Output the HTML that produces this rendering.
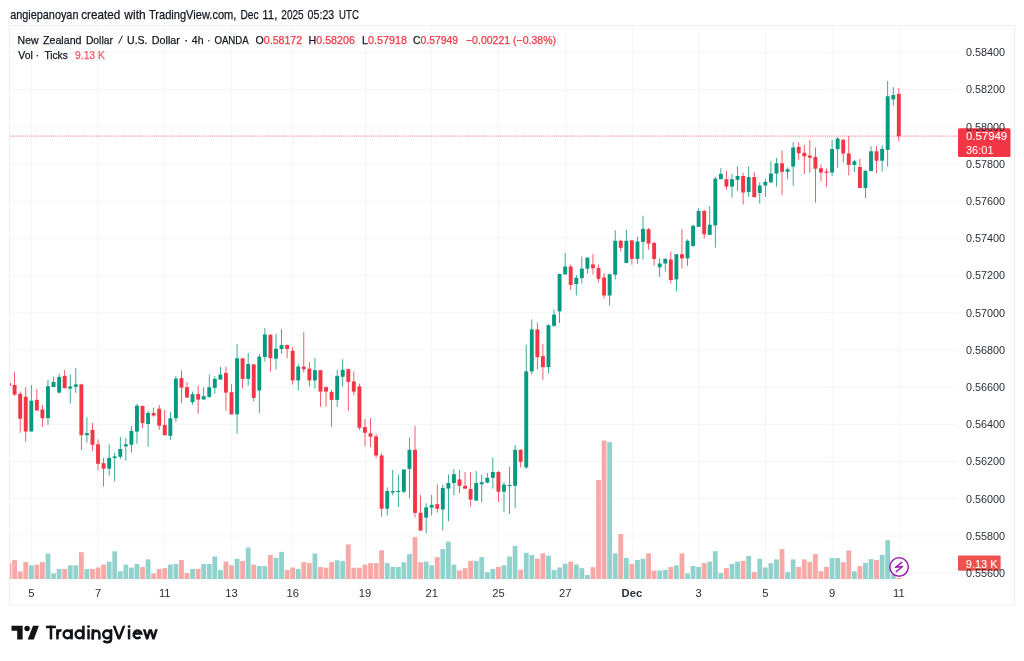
<!DOCTYPE html>
<html><head><meta charset="utf-8"><style>
html,body{margin:0;padding:0;background:#fff;width:1024px;height:661px;overflow:hidden;position:relative}
</style></head><body>
<svg width="1024" height="661" viewBox="0 0 1024 661" style="position:absolute;left:0;top:0;will-change:transform">
<defs><clipPath id="pane"><rect x="10" y="25.5" width="948" height="554"/></clipPath></defs>
<rect x="9.5" y="25.5" width="1005" height="579.3" fill="none" stroke="#EEEFF1" stroke-width="1"/>
<g><rect x="31.00" y="26" width="1" height="554" fill="#F4F5F6"/><rect x="97.10" y="26" width="1" height="554" fill="#F4F5F6"/><rect x="163.90" y="26" width="1" height="554" fill="#F4F5F6"/><rect x="231.10" y="26" width="1" height="554" fill="#F4F5F6"/><rect x="291.90" y="26" width="1" height="554" fill="#F4F5F6"/><rect x="365.00" y="26" width="1" height="554" fill="#F4F5F6"/><rect x="431.10" y="26" width="1" height="554" fill="#F4F5F6"/><rect x="497.80" y="26" width="1" height="554" fill="#F4F5F6"/><rect x="565.20" y="26" width="1" height="554" fill="#F4F5F6"/><rect x="631.90" y="26" width="1" height="554" fill="#F4F5F6"/><rect x="698.30" y="26" width="1" height="554" fill="#F4F5F6"/><rect x="765.00" y="26" width="1" height="554" fill="#F4F5F6"/><rect x="831.80" y="26" width="1" height="554" fill="#F4F5F6"/><rect x="898.60" y="26" width="1" height="554" fill="#F4F5F6"/><rect x="10" y="51.90" width="948" height="1" fill="#F4F5F6"/><rect x="10" y="89.09" width="948" height="1" fill="#F4F5F6"/><rect x="10" y="126.28" width="948" height="1" fill="#F4F5F6"/><rect x="10" y="163.47" width="948" height="1" fill="#F4F5F6"/><rect x="10" y="200.66" width="948" height="1" fill="#F4F5F6"/><rect x="10" y="237.85" width="948" height="1" fill="#F4F5F6"/><rect x="10" y="275.04" width="948" height="1" fill="#F4F5F6"/><rect x="10" y="312.23" width="948" height="1" fill="#F4F5F6"/><rect x="10" y="349.42" width="948" height="1" fill="#F4F5F6"/><rect x="10" y="386.61" width="948" height="1" fill="#F4F5F6"/><rect x="10" y="423.80" width="948" height="1" fill="#F4F5F6"/><rect x="10" y="460.99" width="948" height="1" fill="#F4F5F6"/><rect x="10" y="498.18" width="948" height="1" fill="#F4F5F6"/><rect x="10" y="535.37" width="948" height="1" fill="#F4F5F6"/><rect x="10" y="572.56" width="948" height="1" fill="#F4F5F6"/></g>
<g clip-path="url(#pane)"><rect x="6.66" y="563.10" width="4.8" height="16.10" fill="#F7A9A7"/><rect x="12.22" y="560.00" width="4.8" height="19.20" fill="#F7A9A7"/><rect x="17.78" y="571.30" width="4.8" height="7.90" fill="#F7A9A7"/><rect x="23.34" y="562.10" width="4.8" height="17.10" fill="#F7A9A7"/><rect x="28.90" y="565.30" width="4.8" height="13.90" fill="#92D2CC"/><rect x="34.46" y="564.60" width="4.8" height="14.60" fill="#F7A9A7"/><rect x="40.02" y="562.10" width="4.8" height="17.10" fill="#F7A9A7"/><rect x="45.58" y="553.50" width="4.8" height="25.70" fill="#92D2CC"/><rect x="51.14" y="573.50" width="4.8" height="5.70" fill="#92D2CC"/><rect x="56.71" y="569.00" width="4.8" height="10.20" fill="#92D2CC"/><rect x="62.27" y="569.00" width="4.8" height="10.20" fill="#F7A9A7"/><rect x="67.83" y="565.30" width="4.8" height="13.90" fill="#92D2CC"/><rect x="73.39" y="565.30" width="4.8" height="13.90" fill="#92D2CC"/><rect x="78.95" y="552.10" width="4.8" height="27.10" fill="#F7A9A7"/><rect x="84.51" y="569.00" width="4.8" height="10.20" fill="#92D2CC"/><rect x="90.07" y="569.00" width="4.8" height="10.20" fill="#F7A9A7"/><rect x="95.63" y="567.50" width="4.8" height="11.70" fill="#F7A9A7"/><rect x="101.19" y="564.60" width="4.8" height="14.60" fill="#F7A9A7"/><rect x="106.75" y="561.60" width="4.8" height="17.60" fill="#92D2CC"/><rect x="112.31" y="551.30" width="4.8" height="27.90" fill="#92D2CC"/><rect x="117.88" y="571.30" width="4.8" height="7.90" fill="#92D2CC"/><rect x="123.44" y="564.60" width="4.8" height="14.60" fill="#92D2CC"/><rect x="129.00" y="567.60" width="4.8" height="11.60" fill="#92D2CC"/><rect x="134.56" y="564.00" width="4.8" height="15.20" fill="#92D2CC"/><rect x="140.12" y="567.10" width="4.8" height="12.10" fill="#F7A9A7"/><rect x="145.68" y="559.40" width="4.8" height="19.80" fill="#92D2CC"/><rect x="151.24" y="573.50" width="4.8" height="5.70" fill="#F7A9A7"/><rect x="156.80" y="569.00" width="4.8" height="10.20" fill="#F7A9A7"/><rect x="162.36" y="568.10" width="4.8" height="11.10" fill="#F7A9A7"/><rect x="167.93" y="564.60" width="4.8" height="14.60" fill="#92D2CC"/><rect x="173.49" y="564.00" width="4.8" height="15.20" fill="#92D2CC"/><rect x="179.05" y="560.00" width="4.8" height="19.20" fill="#F7A9A7"/><rect x="184.61" y="572.90" width="4.8" height="6.30" fill="#F7A9A7"/><rect x="190.17" y="569.00" width="4.8" height="10.20" fill="#92D2CC"/><rect x="195.73" y="569.00" width="4.8" height="10.20" fill="#F7A9A7"/><rect x="201.29" y="564.00" width="4.8" height="15.20" fill="#92D2CC"/><rect x="206.85" y="564.00" width="4.8" height="15.20" fill="#92D2CC"/><rect x="212.41" y="556.50" width="4.8" height="22.70" fill="#92D2CC"/><rect x="217.97" y="570.00" width="4.8" height="9.20" fill="#92D2CC"/><rect x="223.53" y="561.60" width="4.8" height="17.60" fill="#F7A9A7"/><rect x="229.10" y="565.25" width="4.8" height="13.95" fill="#F7A9A7"/><rect x="234.66" y="558.75" width="4.8" height="20.45" fill="#92D2CC"/><rect x="240.22" y="561.00" width="4.8" height="18.20" fill="#F7A9A7"/><rect x="245.78" y="547.50" width="4.8" height="31.70" fill="#92D2CC"/><rect x="251.34" y="564.60" width="4.8" height="14.60" fill="#F7A9A7"/><rect x="256.90" y="566.00" width="4.8" height="13.20" fill="#92D2CC"/><rect x="262.46" y="566.00" width="4.8" height="13.20" fill="#92D2CC"/><rect x="268.02" y="555.00" width="4.8" height="24.20" fill="#F7A9A7"/><rect x="273.58" y="557.90" width="4.8" height="21.30" fill="#92D2CC"/><rect x="279.15" y="551.90" width="4.8" height="27.30" fill="#92D2CC"/><rect x="284.71" y="570.00" width="4.8" height="9.20" fill="#F7A9A7"/><rect x="290.27" y="567.50" width="4.8" height="11.70" fill="#F7A9A7"/><rect x="295.83" y="569.00" width="4.8" height="10.20" fill="#92D2CC"/><rect x="301.39" y="562.10" width="4.8" height="17.10" fill="#F7A9A7"/><rect x="306.95" y="563.10" width="4.8" height="16.10" fill="#F7A9A7"/><rect x="312.51" y="553.50" width="4.8" height="25.70" fill="#92D2CC"/><rect x="318.07" y="567.10" width="4.8" height="12.10" fill="#F7A9A7"/><rect x="323.63" y="567.75" width="4.8" height="11.45" fill="#F7A9A7"/><rect x="329.19" y="562.10" width="4.8" height="17.10" fill="#F7A9A7"/><rect x="334.76" y="560.25" width="4.8" height="18.95" fill="#92D2CC"/><rect x="340.32" y="561.00" width="4.8" height="18.20" fill="#92D2CC"/><rect x="345.88" y="544.40" width="4.8" height="34.80" fill="#F7A9A7"/><rect x="351.44" y="567.75" width="4.8" height="11.45" fill="#F7A9A7"/><rect x="357.00" y="567.75" width="4.8" height="11.45" fill="#F7A9A7"/><rect x="362.56" y="564.60" width="4.8" height="14.60" fill="#F7A9A7"/><rect x="368.12" y="563.10" width="4.8" height="16.10" fill="#F7A9A7"/><rect x="373.68" y="563.10" width="4.8" height="16.10" fill="#F7A9A7"/><rect x="379.24" y="550.25" width="4.8" height="28.95" fill="#F7A9A7"/><rect x="384.80" y="563.10" width="4.8" height="16.10" fill="#92D2CC"/><rect x="390.37" y="566.90" width="4.8" height="12.30" fill="#92D2CC"/><rect x="395.93" y="566.90" width="4.8" height="12.30" fill="#92D2CC"/><rect x="401.49" y="562.25" width="4.8" height="16.95" fill="#92D2CC"/><rect x="407.05" y="554.10" width="4.8" height="25.10" fill="#92D2CC"/><rect x="412.61" y="537.10" width="4.8" height="42.10" fill="#F7A9A7"/><rect x="418.17" y="562.25" width="4.8" height="16.95" fill="#F7A9A7"/><rect x="423.73" y="561.60" width="4.8" height="17.60" fill="#92D2CC"/><rect x="429.29" y="565.25" width="4.8" height="13.95" fill="#92D2CC"/><rect x="434.85" y="557.10" width="4.8" height="22.10" fill="#F7A9A7"/><rect x="440.41" y="549.00" width="4.8" height="30.20" fill="#92D2CC"/><rect x="445.98" y="541.60" width="4.8" height="37.60" fill="#92D2CC"/><rect x="451.54" y="564.60" width="4.8" height="14.60" fill="#92D2CC"/><rect x="457.10" y="570.40" width="4.8" height="8.80" fill="#F7A9A7"/><rect x="462.66" y="568.10" width="4.8" height="11.10" fill="#F7A9A7"/><rect x="468.22" y="560.90" width="4.8" height="18.30" fill="#F7A9A7"/><rect x="473.78" y="560.90" width="4.8" height="18.30" fill="#92D2CC"/><rect x="479.34" y="557.10" width="4.8" height="22.10" fill="#92D2CC"/><rect x="484.90" y="572.10" width="4.8" height="7.10" fill="#92D2CC"/><rect x="490.46" y="569.00" width="4.8" height="10.20" fill="#92D2CC"/><rect x="496.02" y="566.90" width="4.8" height="12.30" fill="#F7A9A7"/><rect x="501.59" y="565.25" width="4.8" height="13.95" fill="#92D2CC"/><rect x="507.15" y="556.50" width="4.8" height="22.70" fill="#92D2CC"/><rect x="512.71" y="546.00" width="4.8" height="33.20" fill="#92D2CC"/><rect x="518.27" y="569.75" width="4.8" height="9.45" fill="#F7A9A7"/><rect x="523.83" y="552.75" width="4.8" height="26.45" fill="#92D2CC"/><rect x="529.39" y="555.00" width="4.8" height="24.20" fill="#92D2CC"/><rect x="534.95" y="558.75" width="4.8" height="20.45" fill="#F7A9A7"/><rect x="540.51" y="553.40" width="4.8" height="25.80" fill="#F7A9A7"/><rect x="546.07" y="555.60" width="4.8" height="23.60" fill="#92D2CC"/><rect x="551.63" y="570.00" width="4.8" height="9.20" fill="#92D2CC"/><rect x="557.19" y="567.50" width="4.8" height="11.70" fill="#92D2CC"/><rect x="562.76" y="563.75" width="4.8" height="15.45" fill="#92D2CC"/><rect x="568.32" y="561.60" width="4.8" height="17.60" fill="#F7A9A7"/><rect x="573.88" y="564.40" width="4.8" height="14.80" fill="#92D2CC"/><rect x="579.44" y="568.10" width="4.8" height="11.10" fill="#92D2CC"/><rect x="585.00" y="575.00" width="4.8" height="4.20" fill="#92D2CC"/><rect x="590.56" y="567.25" width="4.8" height="11.95" fill="#F7A9A7"/><rect x="596.12" y="480.00" width="4.8" height="99.20" fill="#F7A9A7"/><rect x="601.68" y="440.60" width="4.8" height="138.60" fill="#F7A9A7"/><rect x="607.24" y="442.20" width="4.8" height="137.00" fill="#92D2CC"/><rect x="612.80" y="553.40" width="4.8" height="25.80" fill="#92D2CC"/><rect x="618.37" y="534.00" width="4.8" height="45.20" fill="#F7A9A7"/><rect x="623.93" y="557.90" width="4.8" height="21.30" fill="#92D2CC"/><rect x="629.49" y="564.00" width="4.8" height="15.20" fill="#F7A9A7"/><rect x="635.05" y="560.00" width="4.8" height="19.20" fill="#92D2CC"/><rect x="640.61" y="558.75" width="4.8" height="20.45" fill="#92D2CC"/><rect x="646.17" y="553.40" width="4.8" height="25.80" fill="#F7A9A7"/><rect x="651.73" y="570.60" width="4.8" height="8.60" fill="#F7A9A7"/><rect x="657.29" y="570.60" width="4.8" height="8.60" fill="#92D2CC"/><rect x="662.85" y="569.75" width="4.8" height="9.45" fill="#92D2CC"/><rect x="668.41" y="566.90" width="4.8" height="12.30" fill="#F7A9A7"/><rect x="673.98" y="565.40" width="4.8" height="13.80" fill="#92D2CC"/><rect x="679.54" y="553.40" width="4.8" height="25.80" fill="#F7A9A7"/><rect x="685.10" y="573.40" width="4.8" height="5.80" fill="#92D2CC"/><rect x="690.66" y="566.00" width="4.8" height="13.20" fill="#92D2CC"/><rect x="696.22" y="566.90" width="4.8" height="12.30" fill="#92D2CC"/><rect x="701.78" y="563.10" width="4.8" height="16.10" fill="#F7A9A7"/><rect x="707.34" y="561.60" width="4.8" height="17.60" fill="#92D2CC"/><rect x="712.90" y="551.25" width="4.8" height="27.95" fill="#92D2CC"/><rect x="718.46" y="572.90" width="4.8" height="6.30" fill="#92D2CC"/><rect x="724.02" y="568.10" width="4.8" height="11.10" fill="#F7A9A7"/><rect x="729.59" y="564.00" width="4.8" height="15.20" fill="#92D2CC"/><rect x="735.15" y="561.60" width="4.8" height="17.60" fill="#92D2CC"/><rect x="740.71" y="560.90" width="4.8" height="18.30" fill="#F7A9A7"/><rect x="746.27" y="555.90" width="4.8" height="23.30" fill="#92D2CC"/><rect x="751.83" y="572.10" width="4.8" height="7.10" fill="#F7A9A7"/><rect x="757.39" y="558.75" width="4.8" height="20.45" fill="#92D2CC"/><rect x="762.95" y="567.50" width="4.8" height="11.70" fill="#92D2CC"/><rect x="768.51" y="563.10" width="4.8" height="16.10" fill="#92D2CC"/><rect x="774.07" y="559.40" width="4.8" height="19.80" fill="#92D2CC"/><rect x="779.63" y="549.10" width="4.8" height="30.10" fill="#F7A9A7"/><rect x="785.20" y="572.10" width="4.8" height="7.10" fill="#92D2CC"/><rect x="790.76" y="559.40" width="4.8" height="19.80" fill="#92D2CC"/><rect x="796.32" y="566.90" width="4.8" height="12.30" fill="#F7A9A7"/><rect x="801.88" y="559.40" width="4.8" height="19.80" fill="#F7A9A7"/><rect x="807.44" y="561.90" width="4.8" height="17.30" fill="#F7A9A7"/><rect x="813.00" y="554.10" width="4.8" height="25.10" fill="#F7A9A7"/><rect x="818.56" y="571.25" width="4.8" height="7.95" fill="#F7A9A7"/><rect x="824.12" y="566.90" width="4.8" height="12.30" fill="#F7A9A7"/><rect x="829.68" y="558.10" width="4.8" height="21.10" fill="#92D2CC"/><rect x="835.25" y="558.10" width="4.8" height="21.10" fill="#92D2CC"/><rect x="840.81" y="562.25" width="4.8" height="16.95" fill="#F7A9A7"/><rect x="846.37" y="550.40" width="4.8" height="28.80" fill="#F7A9A7"/><rect x="851.93" y="571.20" width="4.8" height="8.00" fill="#92D2CC"/><rect x="857.49" y="566.00" width="4.8" height="13.20" fill="#F7A9A7"/><rect x="863.05" y="563.00" width="4.8" height="16.20" fill="#92D2CC"/><rect x="868.61" y="559.10" width="4.8" height="20.10" fill="#92D2CC"/><rect x="874.17" y="560.00" width="4.8" height="19.20" fill="#F7A9A7"/><rect x="879.73" y="555.00" width="4.8" height="24.20" fill="#92D2CC"/><rect x="885.29" y="540.20" width="4.8" height="39.00" fill="#92D2CC"/><rect x="890.86" y="575.00" width="4.8" height="4.20" fill="#92D2CC"/><rect x="896.42" y="577.90" width="4.8" height="1.30" fill="#F7A9A7"/></g>
<line x1="10" y1="136.1" x2="958" y2="136.1" stroke="#F23645" stroke-width="1" stroke-dasharray="1 1.15" opacity="0.75"/>
<g clip-path="url(#pane)"><rect x="8.66" y="383.10" width="0.8" height="2.70" fill="#F23645"/><rect x="7.11" y="383.10" width="3.9" height="2.70" fill="#F23645"/><rect x="14.22" y="372.30" width="0.8" height="23.50" fill="#F23645"/><rect x="12.67" y="385.00" width="3.9" height="9.60" fill="#F23645"/><rect x="19.78" y="391.60" width="0.8" height="41.10" fill="#F23645"/><rect x="18.23" y="393.80" width="3.9" height="25.00" fill="#F23645"/><rect x="25.34" y="387.10" width="0.8" height="54.70" fill="#F23645"/><rect x="23.79" y="396.80" width="3.9" height="34.70" fill="#F23645"/><rect x="30.90" y="385.00" width="0.8" height="46.50" fill="#089981"/><rect x="29.35" y="400.70" width="3.9" height="30.80" fill="#089981"/><rect x="36.46" y="388.60" width="0.8" height="22.10" fill="#F23645"/><rect x="34.91" y="399.80" width="3.9" height="10.60" fill="#F23645"/><rect x="42.02" y="404.90" width="0.8" height="21.80" fill="#F23645"/><rect x="40.47" y="409.50" width="3.9" height="8.70" fill="#F23645"/><rect x="47.58" y="379.80" width="0.8" height="45.10" fill="#089981"/><rect x="46.03" y="386.20" width="3.9" height="32.00" fill="#089981"/><rect x="53.14" y="376.90" width="0.8" height="10.10" fill="#089981"/><rect x="51.59" y="381.90" width="3.9" height="5.10" fill="#089981"/><rect x="58.71" y="373.70" width="0.8" height="19.70" fill="#089981"/><rect x="57.16" y="376.90" width="3.9" height="15.70" fill="#089981"/><rect x="64.27" y="370.00" width="0.8" height="18.20" fill="#F23645"/><rect x="62.72" y="375.90" width="3.9" height="12.30" fill="#F23645"/><rect x="69.83" y="374.40" width="0.8" height="29.00" fill="#089981"/><rect x="68.28" y="386.50" width="3.9" height="2.10" fill="#089981"/><rect x="75.39" y="368.00" width="0.8" height="24.80" fill="#089981"/><rect x="73.84" y="384.40" width="3.9" height="2.50" fill="#089981"/><rect x="80.95" y="383.70" width="0.8" height="66.30" fill="#F23645"/><rect x="79.40" y="384.40" width="3.9" height="50.80" fill="#F23645"/><rect x="86.51" y="417.20" width="0.8" height="25.40" fill="#089981"/><rect x="84.96" y="433.10" width="3.9" height="2.10" fill="#089981"/><rect x="92.07" y="422.90" width="0.8" height="28.10" fill="#F23645"/><rect x="90.52" y="429.90" width="3.9" height="14.80" fill="#F23645"/><rect x="97.63" y="439.40" width="0.8" height="30.80" fill="#F23645"/><rect x="96.08" y="444.30" width="3.9" height="19.50" fill="#F23645"/><rect x="103.19" y="457.90" width="0.8" height="28.60" fill="#F23645"/><rect x="101.64" y="463.20" width="3.9" height="5.50" fill="#F23645"/><rect x="108.75" y="444.30" width="0.8" height="31.20" fill="#089981"/><rect x="107.20" y="457.90" width="3.9" height="10.80" fill="#089981"/><rect x="114.31" y="452.60" width="0.8" height="28.80" fill="#089981"/><rect x="112.76" y="456.40" width="3.9" height="1.70" fill="#089981"/><rect x="119.88" y="436.90" width="0.8" height="22.00" fill="#089981"/><rect x="118.33" y="449.00" width="3.9" height="7.80" fill="#089981"/><rect x="125.44" y="438.00" width="0.8" height="22.60" fill="#089981"/><rect x="123.89" y="444.30" width="3.9" height="2.10" fill="#089981"/><rect x="131.00" y="426.30" width="0.8" height="26.30" fill="#089981"/><rect x="129.45" y="431.00" width="3.9" height="13.70" fill="#089981"/><rect x="136.56" y="404.10" width="0.8" height="39.60" fill="#089981"/><rect x="135.01" y="405.60" width="3.9" height="26.00" fill="#089981"/><rect x="142.12" y="405.60" width="0.8" height="22.60" fill="#F23645"/><rect x="140.57" y="406.00" width="3.9" height="17.10" fill="#F23645"/><rect x="147.68" y="410.80" width="0.8" height="36.10" fill="#089981"/><rect x="146.13" y="413.00" width="3.9" height="11.00" fill="#089981"/><rect x="153.24" y="407.70" width="0.8" height="9.10" fill="#F23645"/><rect x="151.69" y="413.00" width="3.9" height="2.50" fill="#F23645"/><rect x="158.80" y="404.90" width="0.8" height="25.00" fill="#F23645"/><rect x="157.25" y="408.70" width="3.9" height="17.00" fill="#F23645"/><rect x="164.36" y="410.20" width="0.8" height="25.00" fill="#F23645"/><rect x="162.81" y="425.00" width="3.9" height="10.20" fill="#F23645"/><rect x="169.93" y="411.90" width="0.8" height="28.20" fill="#089981"/><rect x="168.38" y="418.30" width="3.9" height="17.50" fill="#089981"/><rect x="175.49" y="375.90" width="0.8" height="46.00" fill="#089981"/><rect x="173.94" y="378.60" width="3.9" height="39.70" fill="#089981"/><rect x="181.05" y="370.30" width="0.8" height="33.00" fill="#F23645"/><rect x="179.50" y="378.10" width="3.9" height="9.50" fill="#F23645"/><rect x="186.61" y="382.00" width="0.8" height="15.90" fill="#F23645"/><rect x="185.06" y="387.10" width="3.9" height="10.40" fill="#F23645"/><rect x="192.17" y="391.60" width="0.8" height="13.10" fill="#089981"/><rect x="190.62" y="394.10" width="3.9" height="8.10" fill="#089981"/><rect x="197.73" y="385.80" width="0.8" height="28.00" fill="#F23645"/><rect x="196.18" y="394.10" width="3.9" height="5.50" fill="#F23645"/><rect x="203.29" y="387.30" width="0.8" height="12.70" fill="#089981"/><rect x="201.74" y="396.20" width="3.9" height="3.20" fill="#089981"/><rect x="208.85" y="374.60" width="0.8" height="23.30" fill="#089981"/><rect x="207.30" y="387.30" width="3.9" height="9.60" fill="#089981"/><rect x="214.41" y="376.30" width="0.8" height="17.40" fill="#089981"/><rect x="212.86" y="378.90" width="3.9" height="8.90" fill="#089981"/><rect x="219.97" y="366.80" width="0.8" height="13.10" fill="#089981"/><rect x="218.42" y="374.60" width="3.9" height="4.90" fill="#089981"/><rect x="225.53" y="366.80" width="0.8" height="43.80" fill="#F23645"/><rect x="223.99" y="372.90" width="3.9" height="19.70" fill="#F23645"/><rect x="231.10" y="384.20" width="0.8" height="30.20" fill="#F23645"/><rect x="229.55" y="392.20" width="3.9" height="22.20" fill="#F23645"/><rect x="236.66" y="343.90" width="0.8" height="89.60" fill="#089981"/><rect x="235.11" y="358.30" width="3.9" height="56.10" fill="#089981"/><rect x="242.22" y="358.30" width="0.8" height="30.10" fill="#F23645"/><rect x="240.67" y="358.30" width="3.9" height="20.60" fill="#F23645"/><rect x="247.78" y="353.00" width="0.8" height="32.60" fill="#089981"/><rect x="246.23" y="364.00" width="3.9" height="14.90" fill="#089981"/><rect x="253.34" y="364.00" width="0.8" height="37.10" fill="#F23645"/><rect x="251.79" y="364.40" width="3.9" height="33.50" fill="#F23645"/><rect x="258.90" y="353.90" width="0.8" height="58.90" fill="#089981"/><rect x="257.35" y="356.60" width="3.9" height="33.90" fill="#089981"/><rect x="264.46" y="328.00" width="0.8" height="33.50" fill="#089981"/><rect x="262.91" y="334.40" width="3.9" height="22.60" fill="#089981"/><rect x="270.02" y="334.00" width="0.8" height="37.40" fill="#F23645"/><rect x="268.47" y="334.80" width="3.9" height="23.30" fill="#F23645"/><rect x="275.58" y="333.90" width="0.8" height="35.50" fill="#089981"/><rect x="274.03" y="348.70" width="3.9" height="10.00" fill="#089981"/><rect x="281.15" y="329.10" width="0.8" height="24.40" fill="#089981"/><rect x="279.60" y="345.00" width="3.9" height="4.00" fill="#089981"/><rect x="286.71" y="344.40" width="0.8" height="13.70" fill="#F23645"/><rect x="285.16" y="345.00" width="3.9" height="4.00" fill="#F23645"/><rect x="292.27" y="347.10" width="0.8" height="37.50" fill="#F23645"/><rect x="290.72" y="350.70" width="3.9" height="29.70" fill="#F23645"/><rect x="297.83" y="364.10" width="0.8" height="26.40" fill="#089981"/><rect x="296.28" y="366.60" width="3.9" height="13.80" fill="#089981"/><rect x="303.39" y="332.30" width="0.8" height="40.20" fill="#F23645"/><rect x="301.84" y="366.60" width="3.9" height="2.60" fill="#F23645"/><rect x="308.95" y="362.00" width="0.8" height="24.30" fill="#F23645"/><rect x="307.40" y="368.70" width="3.9" height="11.70" fill="#F23645"/><rect x="314.51" y="358.10" width="0.8" height="30.30" fill="#089981"/><rect x="312.96" y="370.20" width="3.9" height="10.20" fill="#089981"/><rect x="320.07" y="370.20" width="0.8" height="36.70" fill="#F23645"/><rect x="318.52" y="370.20" width="3.9" height="21.40" fill="#F23645"/><rect x="325.63" y="386.10" width="0.8" height="20.30" fill="#F23645"/><rect x="324.08" y="387.20" width="3.9" height="4.40" fill="#F23645"/><rect x="331.19" y="389.90" width="0.8" height="37.10" fill="#F23645"/><rect x="329.64" y="392.00" width="3.9" height="7.90" fill="#F23645"/><rect x="336.76" y="369.80" width="0.8" height="37.10" fill="#089981"/><rect x="335.21" y="376.10" width="3.9" height="23.80" fill="#089981"/><rect x="342.32" y="359.20" width="0.8" height="27.50" fill="#089981"/><rect x="340.77" y="369.80" width="3.9" height="7.00" fill="#089981"/><rect x="347.88" y="368.70" width="0.8" height="42.00" fill="#F23645"/><rect x="346.33" y="369.20" width="3.9" height="12.70" fill="#F23645"/><rect x="353.44" y="371.30" width="0.8" height="23.90" fill="#F23645"/><rect x="351.89" y="381.40" width="3.9" height="10.20" fill="#F23645"/><rect x="359.00" y="383.60" width="0.8" height="46.40" fill="#F23645"/><rect x="357.45" y="386.30" width="3.9" height="41.50" fill="#F23645"/><rect x="364.56" y="419.10" width="0.8" height="27.10" fill="#F23645"/><rect x="363.01" y="427.10" width="3.9" height="5.70" fill="#F23645"/><rect x="370.12" y="418.00" width="0.8" height="29.00" fill="#F23645"/><rect x="368.57" y="433.30" width="3.9" height="3.40" fill="#F23645"/><rect x="375.68" y="433.90" width="0.8" height="24.40" fill="#F23645"/><rect x="374.13" y="436.40" width="3.9" height="19.10" fill="#F23645"/><rect x="381.24" y="453.40" width="0.8" height="63.10" fill="#F23645"/><rect x="379.69" y="455.50" width="3.9" height="53.20" fill="#F23645"/><rect x="386.80" y="487.30" width="0.8" height="28.20" fill="#089981"/><rect x="385.25" y="491.10" width="3.9" height="17.60" fill="#089981"/><rect x="392.37" y="469.90" width="0.8" height="25.40" fill="#089981"/><rect x="390.81" y="491.10" width="3.9" height="1.50" fill="#089981"/><rect x="397.93" y="474.60" width="0.8" height="32.40" fill="#089981"/><rect x="396.38" y="490.80" width="3.9" height="1.20" fill="#089981"/><rect x="403.49" y="469.50" width="0.8" height="23.70" fill="#089981"/><rect x="401.94" y="469.50" width="3.9" height="22.20" fill="#089981"/><rect x="409.05" y="437.70" width="0.8" height="60.80" fill="#089981"/><rect x="407.50" y="449.80" width="3.9" height="19.10" fill="#089981"/><rect x="414.61" y="425.80" width="0.8" height="91.80" fill="#F23645"/><rect x="413.06" y="449.80" width="3.9" height="63.10" fill="#F23645"/><rect x="420.17" y="494.90" width="0.8" height="35.70" fill="#F23645"/><rect x="418.62" y="512.70" width="3.9" height="17.90" fill="#F23645"/><rect x="425.73" y="503.20" width="0.8" height="30.30" fill="#089981"/><rect x="424.18" y="507.40" width="3.9" height="10.20" fill="#089981"/><rect x="431.29" y="494.90" width="0.8" height="20.60" fill="#089981"/><rect x="429.74" y="504.90" width="3.9" height="2.70" fill="#089981"/><rect x="436.85" y="484.30" width="0.8" height="28.40" fill="#F23645"/><rect x="435.30" y="504.20" width="3.9" height="4.50" fill="#F23645"/><rect x="442.41" y="484.70" width="0.8" height="45.80" fill="#089981"/><rect x="440.86" y="487.90" width="3.9" height="21.60" fill="#089981"/><rect x="447.98" y="474.60" width="0.8" height="46.60" fill="#089981"/><rect x="446.43" y="483.00" width="3.9" height="5.60" fill="#089981"/><rect x="453.54" y="468.90" width="0.8" height="26.40" fill="#089981"/><rect x="451.99" y="474.20" width="3.9" height="8.80" fill="#089981"/><rect x="459.10" y="469.90" width="0.8" height="23.30" fill="#F23645"/><rect x="457.55" y="479.40" width="3.9" height="6.40" fill="#F23645"/><rect x="464.66" y="472.00" width="0.8" height="17.00" fill="#F23645"/><rect x="463.11" y="485.80" width="3.9" height="2.80" fill="#F23645"/><rect x="470.22" y="472.00" width="0.8" height="34.60" fill="#F23645"/><rect x="468.67" y="489.00" width="3.9" height="10.60" fill="#F23645"/><rect x="475.78" y="471.00" width="0.8" height="29.60" fill="#089981"/><rect x="474.23" y="483.00" width="3.9" height="17.60" fill="#089981"/><rect x="481.34" y="474.60" width="0.8" height="27.70" fill="#089981"/><rect x="479.79" y="482.20" width="3.9" height="2.10" fill="#089981"/><rect x="486.90" y="473.10" width="0.8" height="10.20" fill="#089981"/><rect x="485.35" y="477.80" width="3.9" height="4.80" fill="#089981"/><rect x="492.46" y="457.60" width="0.8" height="31.00" fill="#089981"/><rect x="490.91" y="472.00" width="3.9" height="5.80" fill="#089981"/><rect x="498.02" y="471.00" width="0.8" height="31.10" fill="#F23645"/><rect x="496.47" y="472.00" width="3.9" height="19.70" fill="#F23645"/><rect x="503.59" y="482.20" width="0.8" height="29.50" fill="#089981"/><rect x="502.04" y="484.70" width="3.9" height="7.00" fill="#089981"/><rect x="509.15" y="466.70" width="0.8" height="47.10" fill="#089981"/><rect x="507.60" y="484.90" width="3.9" height="1.20" fill="#089981"/><rect x="514.71" y="444.90" width="0.8" height="63.10" fill="#089981"/><rect x="513.16" y="449.80" width="3.9" height="36.00" fill="#089981"/><rect x="520.27" y="449.20" width="0.8" height="18.20" fill="#F23645"/><rect x="518.72" y="449.80" width="3.9" height="12.10" fill="#F23645"/><rect x="525.83" y="344.90" width="0.8" height="124.00" fill="#089981"/><rect x="524.28" y="371.40" width="3.9" height="96.00" fill="#089981"/><rect x="531.39" y="319.40" width="0.8" height="55.10" fill="#089981"/><rect x="529.84" y="329.40" width="3.9" height="42.00" fill="#089981"/><rect x="536.95" y="322.60" width="0.8" height="46.60" fill="#F23645"/><rect x="535.40" y="329.40" width="3.9" height="27.80" fill="#F23645"/><rect x="542.51" y="343.80" width="0.8" height="36.00" fill="#F23645"/><rect x="540.96" y="356.10" width="3.9" height="11.00" fill="#F23645"/><rect x="548.07" y="324.30" width="0.8" height="49.20" fill="#089981"/><rect x="546.52" y="325.20" width="3.9" height="41.90" fill="#089981"/><rect x="553.63" y="309.50" width="0.8" height="17.40" fill="#089981"/><rect x="552.08" y="314.60" width="3.9" height="11.20" fill="#089981"/><rect x="559.19" y="273.90" width="0.8" height="49.10" fill="#089981"/><rect x="557.64" y="273.90" width="3.9" height="37.50" fill="#089981"/><rect x="564.76" y="253.10" width="0.8" height="21.90" fill="#089981"/><rect x="563.21" y="266.50" width="3.9" height="7.80" fill="#089981"/><rect x="570.32" y="264.40" width="0.8" height="25.40" fill="#F23645"/><rect x="568.77" y="266.50" width="3.9" height="18.40" fill="#F23645"/><rect x="575.88" y="275.00" width="0.8" height="20.50" fill="#089981"/><rect x="574.33" y="277.70" width="3.9" height="6.40" fill="#089981"/><rect x="581.44" y="256.50" width="0.8" height="26.90" fill="#089981"/><rect x="579.89" y="268.60" width="3.9" height="9.50" fill="#089981"/><rect x="587.00" y="257.60" width="0.8" height="15.90" fill="#089981"/><rect x="585.45" y="257.60" width="3.9" height="11.00" fill="#089981"/><rect x="592.56" y="253.80" width="0.8" height="20.50" fill="#F23645"/><rect x="591.01" y="264.40" width="3.9" height="3.80" fill="#F23645"/><rect x="598.12" y="264.40" width="0.8" height="18.00" fill="#F23645"/><rect x="596.57" y="268.00" width="3.9" height="10.80" fill="#F23645"/><rect x="603.68" y="273.30" width="0.8" height="25.20" fill="#F23645"/><rect x="602.13" y="277.50" width="3.9" height="18.00" fill="#F23645"/><rect x="609.24" y="273.30" width="0.8" height="32.20" fill="#089981"/><rect x="607.69" y="274.30" width="3.9" height="21.20" fill="#089981"/><rect x="614.80" y="230.30" width="0.8" height="49.10" fill="#089981"/><rect x="613.25" y="240.80" width="3.9" height="33.90" fill="#089981"/><rect x="620.37" y="239.80" width="0.8" height="11.60" fill="#F23645"/><rect x="618.82" y="240.80" width="3.9" height="7.00" fill="#F23645"/><rect x="625.93" y="229.80" width="0.8" height="33.30" fill="#089981"/><rect x="624.38" y="240.80" width="3.9" height="22.30" fill="#089981"/><rect x="631.49" y="239.80" width="0.8" height="24.80" fill="#F23645"/><rect x="629.94" y="240.40" width="3.9" height="18.50" fill="#F23645"/><rect x="637.05" y="236.60" width="0.8" height="27.10" fill="#089981"/><rect x="635.50" y="241.50" width="3.9" height="17.40" fill="#089981"/><rect x="642.61" y="215.80" width="0.8" height="43.70" fill="#089981"/><rect x="641.06" y="228.80" width="3.9" height="13.10" fill="#089981"/><rect x="648.17" y="228.10" width="0.8" height="21.60" fill="#F23645"/><rect x="646.62" y="229.20" width="3.9" height="14.40" fill="#F23645"/><rect x="653.73" y="241.90" width="0.8" height="23.90" fill="#F23645"/><rect x="652.18" y="243.00" width="3.9" height="15.90" fill="#F23645"/><rect x="659.29" y="258.20" width="0.8" height="18.70" fill="#089981"/><rect x="657.74" y="263.50" width="3.9" height="3.80" fill="#089981"/><rect x="664.85" y="258.20" width="0.8" height="13.40" fill="#089981"/><rect x="663.30" y="258.90" width="3.9" height="4.60" fill="#089981"/><rect x="670.41" y="251.40" width="0.8" height="32.20" fill="#F23645"/><rect x="668.86" y="259.50" width="3.9" height="20.50" fill="#F23645"/><rect x="675.98" y="254.20" width="0.8" height="37.10" fill="#089981"/><rect x="674.43" y="254.20" width="3.9" height="25.20" fill="#089981"/><rect x="681.54" y="229.20" width="0.8" height="39.20" fill="#F23645"/><rect x="679.99" y="254.20" width="3.9" height="4.20" fill="#F23645"/><rect x="687.10" y="239.40" width="0.8" height="26.40" fill="#089981"/><rect x="685.55" y="240.80" width="3.9" height="17.60" fill="#089981"/><rect x="692.66" y="224.70" width="0.8" height="22.30" fill="#089981"/><rect x="691.11" y="225.80" width="3.9" height="20.10" fill="#089981"/><rect x="698.22" y="208.20" width="0.8" height="18.70" fill="#089981"/><rect x="696.67" y="211.00" width="3.9" height="15.90" fill="#089981"/><rect x="703.78" y="209.50" width="0.8" height="29.00" fill="#F23645"/><rect x="702.23" y="211.00" width="3.9" height="23.30" fill="#F23645"/><rect x="709.34" y="206.10" width="0.8" height="28.80" fill="#089981"/><rect x="707.79" y="224.70" width="3.9" height="10.20" fill="#089981"/><rect x="714.90" y="176.70" width="0.8" height="70.90" fill="#089981"/><rect x="713.35" y="178.60" width="3.9" height="46.80" fill="#089981"/><rect x="720.46" y="168.20" width="0.8" height="11.00" fill="#089981"/><rect x="718.91" y="173.90" width="3.9" height="5.30" fill="#089981"/><rect x="726.02" y="170.70" width="0.8" height="19.10" fill="#F23645"/><rect x="724.47" y="179.20" width="3.9" height="7.40" fill="#F23645"/><rect x="731.59" y="173.90" width="0.8" height="23.70" fill="#089981"/><rect x="730.04" y="179.20" width="3.9" height="7.40" fill="#089981"/><rect x="737.15" y="166.50" width="0.8" height="24.30" fill="#089981"/><rect x="735.60" y="176.00" width="3.9" height="3.80" fill="#089981"/><rect x="742.71" y="172.80" width="0.8" height="31.80" fill="#F23645"/><rect x="741.16" y="176.00" width="3.9" height="16.50" fill="#F23645"/><rect x="748.27" y="166.10" width="0.8" height="30.70" fill="#089981"/><rect x="746.72" y="177.10" width="3.9" height="14.80" fill="#089981"/><rect x="753.83" y="172.20" width="0.8" height="25.00" fill="#F23645"/><rect x="752.28" y="177.10" width="3.9" height="20.10" fill="#F23645"/><rect x="759.39" y="182.40" width="0.8" height="21.20" fill="#089981"/><rect x="757.84" y="185.50" width="3.9" height="7.50" fill="#089981"/><rect x="764.95" y="178.80" width="0.8" height="18.00" fill="#089981"/><rect x="763.40" y="181.90" width="3.9" height="3.60" fill="#089981"/><rect x="770.51" y="161.20" width="0.8" height="21.20" fill="#089981"/><rect x="768.96" y="173.50" width="3.9" height="8.90" fill="#089981"/><rect x="776.07" y="158.00" width="0.8" height="28.60" fill="#089981"/><rect x="774.52" y="163.30" width="3.9" height="10.20" fill="#089981"/><rect x="781.63" y="150.50" width="0.8" height="44.50" fill="#F23645"/><rect x="780.08" y="163.30" width="3.9" height="8.50" fill="#F23645"/><rect x="787.20" y="167.40" width="0.8" height="11.90" fill="#089981"/><rect x="785.65" y="169.20" width="3.9" height="2.60" fill="#089981"/><rect x="792.76" y="142.20" width="0.8" height="43.50" fill="#089981"/><rect x="791.21" y="147.50" width="3.9" height="19.10" fill="#089981"/><rect x="798.32" y="142.20" width="0.8" height="17.60" fill="#F23645"/><rect x="796.77" y="146.90" width="3.9" height="6.40" fill="#F23645"/><rect x="803.88" y="144.80" width="0.8" height="29.20" fill="#F23645"/><rect x="802.33" y="152.80" width="3.9" height="3.60" fill="#F23645"/><rect x="809.44" y="140.10" width="0.8" height="32.90" fill="#F23645"/><rect x="807.89" y="155.60" width="3.9" height="2.10" fill="#F23645"/><rect x="815.00" y="147.50" width="0.8" height="55.10" fill="#F23645"/><rect x="813.45" y="157.10" width="3.9" height="11.60" fill="#F23645"/><rect x="820.56" y="164.50" width="0.8" height="16.90" fill="#F23645"/><rect x="819.01" y="168.30" width="3.9" height="4.20" fill="#F23645"/><rect x="826.12" y="168.30" width="0.8" height="18.40" fill="#F23645"/><rect x="824.57" y="171.60" width="3.9" height="1.20" fill="#F23645"/><rect x="831.68" y="140.10" width="0.8" height="36.00" fill="#089981"/><rect x="830.13" y="149.00" width="3.9" height="23.50" fill="#089981"/><rect x="837.25" y="136.90" width="0.8" height="30.80" fill="#089981"/><rect x="835.69" y="138.60" width="3.9" height="10.60" fill="#089981"/><rect x="842.81" y="139.10" width="0.8" height="23.30" fill="#F23645"/><rect x="841.26" y="139.70" width="3.9" height="13.80" fill="#F23645"/><rect x="848.37" y="135.90" width="0.8" height="39.60" fill="#F23645"/><rect x="846.82" y="153.50" width="3.9" height="11.40" fill="#F23645"/><rect x="853.93" y="159.80" width="0.8" height="12.10" fill="#089981"/><rect x="852.38" y="161.30" width="3.9" height="3.60" fill="#089981"/><rect x="859.49" y="158.90" width="0.8" height="29.10" fill="#F23645"/><rect x="857.94" y="167.00" width="3.9" height="21.00" fill="#F23645"/><rect x="865.05" y="170.20" width="0.8" height="27.80" fill="#089981"/><rect x="863.50" y="170.80" width="3.9" height="17.20" fill="#089981"/><rect x="870.61" y="146.20" width="0.8" height="24.90" fill="#089981"/><rect x="869.06" y="151.30" width="3.9" height="19.80" fill="#089981"/><rect x="876.17" y="146.20" width="0.8" height="27.00" fill="#F23645"/><rect x="874.62" y="151.30" width="3.9" height="9.40" fill="#F23645"/><rect x="881.73" y="145.30" width="0.8" height="26.30" fill="#089981"/><rect x="880.18" y="148.90" width="3.9" height="11.80" fill="#089981"/><rect x="887.29" y="80.90" width="0.8" height="85.60" fill="#089981"/><rect x="885.74" y="96.30" width="3.9" height="53.50" fill="#089981"/><rect x="892.86" y="87.20" width="0.8" height="18.50" fill="#089981"/><rect x="891.30" y="95.00" width="3.9" height="4.40" fill="#089981"/><rect x="898.42" y="88.10" width="0.8" height="53.20" fill="#F23645"/><rect x="896.87" y="93.90" width="3.9" height="42.30" fill="#F23645"/></g>
<g font-family="Liberation Sans, sans-serif" font-size="11.2" fill="#2A2E39"><text x="31.30" y="596.5" text-anchor="middle">5</text><text x="98.03" y="596.5" text-anchor="middle">7</text><text x="164.76" y="596.5" text-anchor="middle">11</text><text x="231.50" y="596.5" text-anchor="middle">13</text><text x="292.67" y="596.5" text-anchor="middle">16</text><text x="364.96" y="596.5" text-anchor="middle">19</text><text x="431.69" y="596.5" text-anchor="middle">21</text><text x="498.42" y="596.5" text-anchor="middle">25</text><text x="565.16" y="596.5" text-anchor="middle">27</text><text x="631.89" y="596.5" text-anchor="middle" font-weight="bold">Dec</text><text x="698.62" y="596.5" text-anchor="middle">3</text><text x="765.35" y="596.5" text-anchor="middle">5</text><text x="832.08" y="596.5" text-anchor="middle">9</text><text x="898.82" y="596.5" text-anchor="middle">11</text></g>
<rect x="958" y="128.2" width="52.5" height="28.7" rx="1.5" fill="#F23645"/>
<rect x="958" y="555.6" width="42.6" height="15.2" rx="1" fill="#EF5350"/>
<circle cx="899.06" cy="567.06" r="9.25" fill="#fff" stroke="#9C27B0" stroke-width="1.6"/>
<path d="M901.9 562.4 L895.4 567.3 L902.6 566.5 L896.3 571.7" fill="none" stroke="#9C27B0" stroke-width="1.5" stroke-linejoin="round" stroke-linecap="round"/>
<text id="h0" x="10.18" y="18.50" font-family="Liberation Sans, sans-serif" font-size="12.6" textLength="68.27" lengthAdjust="spacingAndGlyphs" fill="#131722" stroke="#131722" stroke-width="0.25">angiepanoyan</text><text id="h1" x="81.27" y="18.50" font-family="Liberation Sans, sans-serif" font-size="12.6" textLength="38.86" lengthAdjust="spacingAndGlyphs" fill="#131722" stroke="#131722" stroke-width="0.25">created</text><text id="h2" x="124.33" y="18.50" font-family="Liberation Sans, sans-serif" font-size="12.6" textLength="21.30" lengthAdjust="spacingAndGlyphs" fill="#131722" stroke="#131722" stroke-width="0.25">with</text><text id="h3" x="148.96" y="18.50" font-family="Liberation Sans, sans-serif" font-size="12.6" textLength="87.49" lengthAdjust="spacingAndGlyphs" fill="#131722" stroke="#131722" stroke-width="0.25">TradingView.com,</text><text id="h4" x="240.39" y="18.50" font-family="Liberation Sans, sans-serif" font-size="12.6" textLength="18.11" lengthAdjust="spacingAndGlyphs" fill="#131722" stroke="#131722" stroke-width="0.25">Dec</text><text id="h5" x="262.31" y="18.50" font-family="Liberation Sans, sans-serif" font-size="12.6" textLength="15.01" lengthAdjust="spacingAndGlyphs" fill="#131722" stroke="#131722" stroke-width="0.25">11,</text><text id="h6" x="281.33" y="18.50" font-family="Liberation Sans, sans-serif" font-size="12.6" textLength="22.29" lengthAdjust="spacingAndGlyphs" fill="#131722" stroke="#131722" stroke-width="0.25">2025</text><text id="h7" x="307.60" y="18.50" font-family="Liberation Sans, sans-serif" font-size="12.6" textLength="26.66" lengthAdjust="spacingAndGlyphs" fill="#131722" stroke="#131722" stroke-width="0.25">05:23</text><text id="h8" x="339.12" y="18.50" font-family="Liberation Sans, sans-serif" font-size="12.6" textLength="19.72" lengthAdjust="spacingAndGlyphs" fill="#131722" stroke="#131722" stroke-width="0.25">UTC</text><text id="l0" x="17.58" y="43.60" font-family="Liberation Sans, sans-serif" font-size="11.2" textLength="20.93" lengthAdjust="spacingAndGlyphs" fill="#131722" stroke="#131722" stroke-width="0.25">New</text><text id="l1" x="42.91" y="43.60" font-family="Liberation Sans, sans-serif" font-size="11.2" textLength="38.67" lengthAdjust="spacingAndGlyphs" fill="#131722" stroke="#131722" stroke-width="0.25">Zealand</text><text id="l2" x="85.90" y="43.60" font-family="Liberation Sans, sans-serif" font-size="11.2" textLength="27.00" lengthAdjust="spacingAndGlyphs" fill="#131722" stroke="#131722" stroke-width="0.25">Dollar</text><text id="l3" x="127.01" y="43.60" font-family="Liberation Sans, sans-serif" font-size="11.2" textLength="20.56" lengthAdjust="spacingAndGlyphs" fill="#131722" stroke="#131722" stroke-width="0.25">U.S.</text><text id="l4" x="151.77" y="43.60" font-family="Liberation Sans, sans-serif" font-size="11.2" textLength="28.11" lengthAdjust="spacingAndGlyphs" fill="#131722" stroke="#131722" stroke-width="0.25">Dollar</text><text id="l5" x="184.12" y="43.60" font-family="Liberation Sans, sans-serif" font-size="11.2" textLength="4.40" lengthAdjust="spacingAndGlyphs" fill="#131722" stroke="#131722" stroke-width="0.25">·</text><text id="l6" x="191.86" y="43.60" font-family="Liberation Sans, sans-serif" font-size="11.2" textLength="11.74" lengthAdjust="spacingAndGlyphs" fill="#131722" stroke="#131722" stroke-width="0.25">4h</text><text id="l7" x="207.55" y="43.60" font-family="Liberation Sans, sans-serif" font-size="11.2" textLength="2.62" lengthAdjust="spacingAndGlyphs" fill="#131722" stroke="#131722" stroke-width="0.25">·</text><text id="l8" x="214.39" y="43.60" font-family="Liberation Sans, sans-serif" font-size="11.2" textLength="34.42" lengthAdjust="spacingAndGlyphs" fill="#131722" stroke="#131722" stroke-width="0.25">OANDA</text><text id="o0" x="255.61" y="43.60" font-family="Liberation Sans, sans-serif" font-size="11.2" textLength="46.47" lengthAdjust="spacingAndGlyphs" fill="#131722" stroke="#131722" stroke-width="0.25">O<tspan fill="#F23645" stroke="#F23645">0.58172</tspan></text><text id="o1" x="308.55" y="43.60" font-family="Liberation Sans, sans-serif" font-size="11.2" textLength="46.32" lengthAdjust="spacingAndGlyphs" fill="#131722" stroke="#131722" stroke-width="0.25">H<tspan fill="#F23645" stroke="#F23645">0.58206</tspan></text><text id="o2" x="361.96" y="43.60" font-family="Liberation Sans, sans-serif" font-size="11.2" textLength="45.10" lengthAdjust="spacingAndGlyphs" fill="#131722" stroke="#131722" stroke-width="0.25">L<tspan fill="#F23645" stroke="#F23645">0.57918</tspan></text><text id="o3" x="412.97" y="43.60" font-family="Liberation Sans, sans-serif" font-size="11.2" textLength="45.19" lengthAdjust="spacingAndGlyphs" fill="#131722" stroke="#131722" stroke-width="0.25">C<tspan fill="#F23645" stroke="#F23645">0.57949</tspan></text><text id="chg" x="465.98" y="43.60" font-family="Liberation Sans, sans-serif" font-size="11.2" textLength="90.07" lengthAdjust="spacingAndGlyphs" fill="#F23645" stroke="#F23645" stroke-width="0.25">−0.00221 (−0.38%)</text><text id="v0" x="18.30" y="59.00" font-family="Liberation Sans, sans-serif" font-size="11.2" textLength="14.53" lengthAdjust="spacingAndGlyphs" fill="#131722" stroke="#131722" stroke-width="0.25">Vol</text><text id="v1" x="35.49" y="59.00" font-family="Liberation Sans, sans-serif" font-size="11.2" textLength="3.72" lengthAdjust="spacingAndGlyphs" fill="#131722" stroke="#131722" stroke-width="0.25">·</text><text id="v2" x="44.41" y="59.00" font-family="Liberation Sans, sans-serif" font-size="11.2" textLength="23.37" lengthAdjust="spacingAndGlyphs" fill="#131722" stroke="#131722" stroke-width="0.25">Ticks</text><text id="v3" x="75.03" y="59.00" font-family="Liberation Sans, sans-serif" font-size="11.2" textLength="29.87" lengthAdjust="spacingAndGlyphs" fill="#F7525F" stroke="#F7525F" stroke-width="0.25">9.13 K</text><text id="p0" x="965.98" y="56.30" font-family="Liberation Sans, sans-serif" font-size="11.6" textLength="39.17" lengthAdjust="spacingAndGlyphs" fill="#2A2E39" stroke="#2A2E39" stroke-width="0">0.58400</text><text id="p1" x="965.98" y="93.49" font-family="Liberation Sans, sans-serif" font-size="11.6" textLength="39.17" lengthAdjust="spacingAndGlyphs" fill="#2A2E39" stroke="#2A2E39" stroke-width="0">0.58200</text><text id="p2" x="965.98" y="130.68" font-family="Liberation Sans, sans-serif" font-size="11.6" textLength="39.17" lengthAdjust="spacingAndGlyphs" fill="#2A2E39" stroke="#2A2E39" stroke-width="0">0.58000</text><text id="p3" x="965.98" y="167.87" font-family="Liberation Sans, sans-serif" font-size="11.6" textLength="39.17" lengthAdjust="spacingAndGlyphs" fill="#2A2E39" stroke="#2A2E39" stroke-width="0">0.57800</text><text id="p4" x="965.98" y="205.06" font-family="Liberation Sans, sans-serif" font-size="11.6" textLength="39.17" lengthAdjust="spacingAndGlyphs" fill="#2A2E39" stroke="#2A2E39" stroke-width="0">0.57600</text><text id="p5" x="965.98" y="242.25" font-family="Liberation Sans, sans-serif" font-size="11.6" textLength="39.17" lengthAdjust="spacingAndGlyphs" fill="#2A2E39" stroke="#2A2E39" stroke-width="0">0.57400</text><text id="p6" x="965.98" y="279.44" font-family="Liberation Sans, sans-serif" font-size="11.6" textLength="39.17" lengthAdjust="spacingAndGlyphs" fill="#2A2E39" stroke="#2A2E39" stroke-width="0">0.57200</text><text id="p7" x="965.98" y="316.63" font-family="Liberation Sans, sans-serif" font-size="11.6" textLength="39.17" lengthAdjust="spacingAndGlyphs" fill="#2A2E39" stroke="#2A2E39" stroke-width="0">0.57000</text><text id="p8" x="965.98" y="353.82" font-family="Liberation Sans, sans-serif" font-size="11.6" textLength="39.17" lengthAdjust="spacingAndGlyphs" fill="#2A2E39" stroke="#2A2E39" stroke-width="0">0.56800</text><text id="p9" x="965.98" y="391.01" font-family="Liberation Sans, sans-serif" font-size="11.6" textLength="39.17" lengthAdjust="spacingAndGlyphs" fill="#2A2E39" stroke="#2A2E39" stroke-width="0">0.56600</text><text id="p10" x="965.98" y="428.20" font-family="Liberation Sans, sans-serif" font-size="11.6" textLength="39.17" lengthAdjust="spacingAndGlyphs" fill="#2A2E39" stroke="#2A2E39" stroke-width="0">0.56400</text><text id="p11" x="965.98" y="465.39" font-family="Liberation Sans, sans-serif" font-size="11.6" textLength="39.17" lengthAdjust="spacingAndGlyphs" fill="#2A2E39" stroke="#2A2E39" stroke-width="0">0.56200</text><text id="p12" x="965.98" y="502.58" font-family="Liberation Sans, sans-serif" font-size="11.6" textLength="39.17" lengthAdjust="spacingAndGlyphs" fill="#2A2E39" stroke="#2A2E39" stroke-width="0">0.56000</text><text id="p13" x="965.98" y="539.77" font-family="Liberation Sans, sans-serif" font-size="11.6" textLength="39.17" lengthAdjust="spacingAndGlyphs" fill="#2A2E39" stroke="#2A2E39" stroke-width="0">0.55800</text><text id="p14" x="965.98" y="576.96" font-family="Liberation Sans, sans-serif" font-size="11.6" textLength="39.17" lengthAdjust="spacingAndGlyphs" fill="#2A2E39" stroke="#2A2E39" stroke-width="0">0.55600</text><text id="bx0" x="966.01" y="140.20" font-family="Liberation Sans, sans-serif" font-size="11.6" textLength="41.17" lengthAdjust="spacingAndGlyphs" fill="#fff" stroke="#fff" stroke-width="0.12">0.57949</text><text id="bx1" x="966.01" y="153.70" font-family="Liberation Sans, sans-serif" font-size="11.6" textLength="27.54" lengthAdjust="spacingAndGlyphs" fill="#fff" stroke="#fff" stroke-width="0">36:01</text><text id="vb" x="965.80" y="567.70" font-family="Liberation Sans, sans-serif" font-size="11.6" textLength="31.67" lengthAdjust="spacingAndGlyphs" fill="#fff" stroke="#fff" stroke-width="0.1">9.13 K</text>
<line x1="118.7" y1="43.6" x2="122.5" y2="35.6" stroke="#131722" stroke-width="1"/>
<g fill="#131313"><path d="M11.5 625.7 H22.65 V639.5 H17.2 V630.7 H11.5 Z"/><circle cx="27.1" cy="628.4" r="2.75"/><path d="M33 625.7 H38.9 L33.8 639.5 H27.7 Z"/></g>
<defs><clipPath id="lc"><rect x="40" y="625.7" width="125" height="13.7"/></clipPath><clipPath id="lc2"><rect x="40" y="629.2" width="125" height="10.2"/></clipPath></defs>
<g fill="#111318">
<rect x="46.0" y="625.7" width="9.9" height="2.5"/><rect x="49.70" y="625.7" width="2.5" height="13.7"/>
<rect x="56.20" y="629.2" width="2.5" height="10.2"/>
<rect x="70.35" y="629.2" width="2.5" height="10.2"/>
<rect x="82.15" y="625.7" width="2.5" height="13.7"/>
<circle cx="88.5" cy="626.6" r="1.4"/><rect x="87.25" y="629.2" width="2.5" height="10.2"/>
<rect x="91.55" y="629.2" width="2.5" height="10.2"/>
<circle cx="129.05" cy="626.6" r="1.4"/><rect x="127.80" y="629.2" width="2.5" height="10.2"/>
</g>
<g fill="none" stroke="#111318" stroke-width="2.5">
<path d="M57.45 635 Q57.45 630.35 61.6 630.35"/>
<circle cx="67.5" cy="634.3" r="3.85"/>
<circle cx="79.45" cy="634.3" r="3.85"/>
<path d="M92.8 639.4 V634 A3.3 3.3 0 0 1 99.4 634 V639.4"/>
<circle cx="107.1" cy="634.3" r="3.85"/>
<path d="M111.05 629.2 V639.2 Q111.05 642.15 107.2 642.15 Q104.6 642.15 103.5 640.7"/>
<path d="M133.45 633.4 H141.25 A3.85 3.85 0 1 0 140.43 636.84"/>
<g clip-path="url(#lc)"><path d="M113.2 623.5 L119 639.1 L124.9 623.5" stroke-linejoin="miter" stroke-miterlimit="10"/></g>
<g clip-path="url(#lc2)"><path d="M143.3 626.7 L147.1 638.9 L150.35 628.5 L153.5 638.9 L157.3 626.7" stroke-linejoin="miter" stroke-miterlimit="10"/></g>
</g>
</svg>
</body></html>
